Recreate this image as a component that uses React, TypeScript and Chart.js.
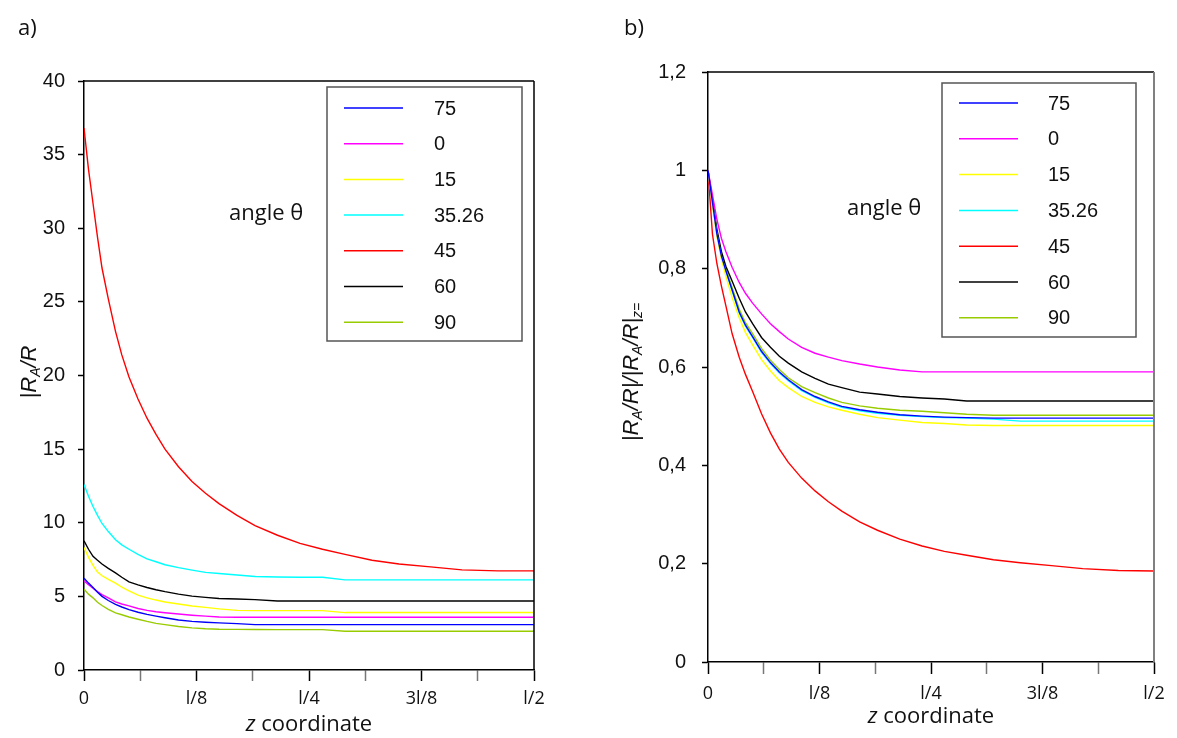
import React, { useEffect, useRef } from 'react';
import { Chart, registerables } from 'chart.js';
Chart.register(...registerables);

// z positions in units of l
const zGrid = [0, 0.005, 0.01, 0.015, 0.02, 0.027, 0.035, 0.042, 0.05, 0.06, 0.07, 0.08, 0.09, 0.105, 0.12, 0.135, 0.15, 0.17, 0.19, 0.215, 0.24, 0.265, 0.29, 0.32, 0.35, 0.385, 0.42, 0.46, 0.5];
const angleLabels = ['75', '0', '15', '35.26', '45', '60', '90'];
const seriesColors = ['#0000ff', '#ff00ff', '#ffff00', '#00ffff', '#ff0000', '#000000', '#99cc00'];
const xTickLabels = ['0', '', 'l/8', '', 'l/4', '', '3l/8', '', 'l/2'];

// panel a: |R_A/R|
const a75 = [6.24, 5.9, 5.6, 5.28, 5.0, 4.72, 4.45, 4.28, 4.1, 3.92, 3.78, 3.66, 3.55, 3.4, 3.3, 3.24, 3.2, 3.15, 3.08, 3.08, 3.08, 3.08, 3.08, 3.08, 3.08, 3.08, 3.08, 3.08, 3.08];
const a0 = [6.05, 5.8, 5.55, 5.32, 5.12, 4.9, 4.62, 4.48, 4.35, 4.18, 4.05, 3.96, 3.89, 3.8, 3.72, 3.66, 3.6, 3.58, 3.58, 3.58, 3.58, 3.58, 3.58, 3.58, 3.58, 3.58, 3.58, 3.58, 3.58];
const a15 = [8.32, 7.65, 7.1, 6.65, 6.4, 6.15, 5.9, 5.62, 5.38, 5.08, 4.9, 4.75, 4.62, 4.48, 4.35, 4.25, 4.15, 4.05, 4.03, 4.03, 4.03, 4.03, 3.9, 3.9, 3.9, 3.9, 3.9, 3.9, 3.9];
const a3526 = [12.6, 11.8, 11.1, 10.5, 9.95, 9.4, 8.85, 8.5, 8.2, 7.85, 7.55, 7.35, 7.15, 6.95, 6.78, 6.63, 6.55, 6.45, 6.35, 6.32, 6.3, 6.3, 6.12, 6.12, 6.12, 6.12, 6.12, 6.12, 6.12];
const a45 = [36.8, 34.0, 31.7, 29.4, 27.3, 25.2, 23.0, 21.4, 19.9, 18.4, 17.1, 16.0, 15.0, 13.8, 12.8, 12.0, 11.3, 10.5, 9.8, 9.15, 8.6, 8.2, 7.85, 7.45, 7.2, 7.0, 6.8, 6.73, 6.73];
const a60 = [8.78, 8.2, 7.72, 7.45, 7.2, 6.9, 6.6, 6.3, 5.98, 5.78, 5.6, 5.45, 5.32, 5.15, 5.02, 4.93, 4.86, 4.82, 4.78, 4.69, 4.69, 4.69, 4.69, 4.69, 4.69, 4.69, 4.69, 4.69, 4.69];
const a90 = [5.49, 5.15, 4.9, 4.6, 4.38, 4.12, 3.88, 3.75, 3.6, 3.45, 3.3, 3.17, 3.08, 2.95, 2.86, 2.8, 2.77, 2.76, 2.75, 2.74, 2.74, 2.74, 2.63, 2.63, 2.63, 2.63, 2.63, 2.63, 2.63];

// panel b: normalised
const b75 = [1, 0.935, 0.87, 0.826, 0.796, 0.757, 0.712, 0.685, 0.662, 0.632, 0.609, 0.59, 0.574, 0.554, 0.54, 0.529, 0.52, 0.513, 0.508, 0.503, 0.5, 0.498, 0.497, 0.496, 0.496, 0.496, 0.496, 0.496, 0.496];
const b0 = [1, 0.95, 0.9, 0.862, 0.835, 0.803, 0.772, 0.75, 0.73, 0.708, 0.688, 0.672, 0.657, 0.64, 0.628, 0.62, 0.613, 0.606, 0.6, 0.594, 0.59, 0.59, 0.59, 0.59, 0.59, 0.59, 0.59, 0.59, 0.59];
const b15 = [1, 0.93, 0.865, 0.82, 0.785, 0.742, 0.7, 0.67, 0.645, 0.615, 0.592, 0.572, 0.558, 0.54, 0.528, 0.519, 0.512, 0.504, 0.497, 0.492, 0.487, 0.485, 0.482, 0.481, 0.481, 0.481, 0.481, 0.481, 0.481];
const b3526 = [1, 0.935, 0.87, 0.825, 0.795, 0.755, 0.71, 0.683, 0.66, 0.63, 0.607, 0.588, 0.572, 0.552, 0.538, 0.527, 0.518, 0.511, 0.506, 0.502, 0.499, 0.497, 0.496, 0.494, 0.49, 0.49, 0.49, 0.49, 0.49];
const b45 = [1, 0.87, 0.81, 0.765, 0.725, 0.668, 0.62, 0.585, 0.55, 0.505, 0.466, 0.433, 0.406, 0.374, 0.348, 0.326, 0.307, 0.285, 0.268, 0.25, 0.236, 0.225, 0.217, 0.208, 0.202, 0.196, 0.19, 0.186, 0.185];
const b60 = [1, 0.94, 0.88, 0.835, 0.805, 0.775, 0.74, 0.712, 0.688, 0.66, 0.64, 0.622, 0.608, 0.59, 0.577, 0.565, 0.558, 0.549, 0.545, 0.54, 0.537, 0.535, 0.531, 0.531, 0.531, 0.531, 0.531, 0.531, 0.531];
const b90 = [1, 0.937, 0.873, 0.83, 0.8, 0.762, 0.718, 0.69, 0.668, 0.638, 0.614, 0.595, 0.578, 0.56, 0.548, 0.537, 0.528, 0.521, 0.516, 0.512, 0.51, 0.507, 0.504, 0.502, 0.502, 0.502, 0.502, 0.502, 0.502];

const seriesA = [a75, a0, a15, a3526, a45, a60, a90];
const seriesB = [b75, b0, b15, b3526, b45, b60, b90];

type Seg = { t: string; sub?: boolean };

type PanelCfg = {
  left: number; width: number; height: number;
  areaLeft: number; areaRight: number; areaTop: number; areaBottom: number;
  yMax: number; yStep: number; yFmt: (v: number) => string;
  yPad: number; xPad: number; xTickLen: number;
  series: number[][];
  legend: { x0: number; y0: number; x1: number; y1: number; lx0: number; lx1: number; tx: number; ry: number; dy: number };
  angle: { x: number; y: number };
  yTitle: { x: number; y: number; segs: Seg[] };
  xTitleY: number;
  tag: { t: string; x: number; y: number };
  rightColor: string;
};

const TICK_FONT = '"Liberation Sans", Arial, sans-serif';
const CAL_FONT = '"Open Sans", sans-serif';

function drawSegs(ctx: CanvasRenderingContext2D, segs: Seg[], main: string, sub: string, subShift: number) {
  let total = 0;
  for (const s of segs) { ctx.font = s.sub ? sub : main; total += ctx.measureText(s.t).width; }
  let x = -total / 2;
  for (const s of segs) {
    ctx.font = s.sub ? sub : main;
    ctx.fillText(s.t, x, s.sub ? subShift : 0);
    x += ctx.measureText(s.t).width;
  }
}

const Panel: React.FC<{ cfg: PanelCfg }> = ({ cfg }) => {
  const ref = useRef<HTMLCanvasElement>(null);
  useEffect(() => {
    const c = cfg;
    const off = c.left;
    const deco = {
      id: 'deco',
      afterDraw(chart: any) {
        const ctx: CanvasRenderingContext2D = chart.ctx;
        const a = chart.chartArea;
        ctx.save();
        // top & right frame
        ctx.lineWidth = 1.5;
        ctx.strokeStyle = '#000';
        ctx.beginPath();
        ctx.moveTo(a.left, a.top); ctx.lineTo(a.right, a.top);
        ctx.stroke();
        ctx.strokeStyle = c.rightColor;
        ctx.lineWidth = c.rightColor === '#000' ? 1.5 : 2;
        ctx.beginPath();
        ctx.moveTo(a.right, a.top); ctx.lineTo(a.right, a.bottom);
        ctx.stroke();
        // legend
        const L = c.legend;
        ctx.fillStyle = '#fff';
        ctx.fillRect(L.x0 - off, L.y0, L.x1 - L.x0, L.y1 - L.y0);
        ctx.strokeStyle = '#555';
        ctx.lineWidth = 1.5;
        ctx.strokeRect(L.x0 - off, L.y0, L.x1 - L.x0, L.y1 - L.y0);
        chart.data.datasets.forEach((ds: any, i: number) => {
          const y = L.ry + i * L.dy;
          ctx.strokeStyle = ds.borderColor;
          ctx.lineWidth = 1.5;
          ctx.beginPath();
          ctx.moveTo(L.lx0 - off, y); ctx.lineTo(L.lx1 - off, y);
          ctx.stroke();
          ctx.fillStyle = '#111';
          ctx.font = '20px ' + TICK_FONT;
          ctx.textAlign = 'left';
          ctx.textBaseline = 'middle';
          ctx.fillText(ds.label, L.tx - off, y + 1);
        });
        // angle text
        ctx.fillStyle = '#111';
        ctx.font = '22px ' + CAL_FONT;
        ctx.textAlign = 'left';
        ctx.textBaseline = 'middle';
        ctx.fillText('angle θ', c.angle.x - off, c.angle.y);
        // panel tag
        ctx.font = '22px ' + CAL_FONT;
        ctx.fillText(c.tag.t, c.tag.x - off, c.tag.y);
        // x title
        ctx.save();
        ctx.translate((a.left + a.right) / 2, c.xTitleY);
        ctx.textAlign = 'left';
        ctx.textBaseline = 'middle';
        let tw = 0;
        ctx.font = 'italic 22px ' + CAL_FONT; tw += ctx.measureText('z').width;
        ctx.font = '22px ' + CAL_FONT; tw += ctx.measureText(' coordinate').width;
        let xx = -tw / 2;
        ctx.font = 'italic 22px ' + CAL_FONT; ctx.fillText('z', xx, 0); xx += ctx.measureText('z').width;
        ctx.font = '22px ' + CAL_FONT; ctx.fillText(' coordinate', xx, 0);
        ctx.restore();
        // y title
        ctx.save();
        ctx.translate(c.yTitle.x - off, c.yTitle.y);
        ctx.rotate(-Math.PI / 2);
        ctx.textAlign = 'left';
        ctx.textBaseline = 'middle';
        drawSegs(ctx, c.yTitle.segs, 'italic 22px ' + TICK_FONT, 'italic 14px ' + TICK_FONT, 6);
        ctx.restore();
        ctx.restore();
      },
    };
    const chart = new Chart(ref.current!, {
      type: 'line',
      data: {
        datasets: c.series.map((vals, i) => ({
          label: angleLabels[i],
          data: vals.map((v, j) => ({ x: zGrid[j], y: v })),
          borderColor: seriesColors[i],
          backgroundColor: seriesColors[i],
          borderWidth: 1.4,
          pointRadius: 0,
          tension: 0,
          fill: false,
        })),
      },
      options: {
        responsive: false,
        animation: false,
        layout: { padding: { top: c.areaTop, right: c.width - (c.areaRight - off), left: 0, bottom: 0 } },
        plugins: { legend: { display: false }, tooltip: { enabled: false } },
        scales: {
          x: {
            type: 'linear', min: 0, max: 0.5,
            afterFit: (s: any) => { s.height = c.height - c.areaBottom; },
            ticks: {
              stepSize: 1 / 16, autoSkip: false, maxRotation: 0, padding: c.xPad,
              color: '#111', font: { family: CAL_FONT, size: 18 },
              callback: (v: any) => xTickLabels[Math.round(Number(v) * 16)] ?? '',
            },
            grid: {
              drawOnChartArea: false, drawTicks: true, tickLength: c.xTickLen, tickWidth: 1.5,
              tickColor: (ctx: any) => (Math.round(ctx.tick.value * 16) % 2 === 0 ? '#000' : '#777'),
            },
            border: { color: '#000', width: 1.5 },
          },
          y: {
            type: 'linear', min: 0, max: c.yMax,
            afterFit: (s: any) => { s.width = c.areaLeft - off; },
            ticks: {
              stepSize: c.yStep, padding: c.yPad, color: '#111',
              font: { family: TICK_FONT, size: 20 },
              callback: (v: any) => c.yFmt(Number(v)),
            },
            grid: { drawOnChartArea: false, drawTicks: true, tickLength: 6, tickWidth: 1.5, tickColor: '#000' },
            border: { color: '#000', width: 1.5 },
          },
        },
      },
      plugins: [deco],
    } as any);
    return () => chart.destroy();
  }, [cfg]);
  return (
    <canvas
      ref={ref}
      width={cfg.width}
      height={cfg.height}
      style={{ position: 'absolute', left: cfg.left, top: 0, width: cfg.width, height: cfg.height }}
    />
  );
};

const cfgA: PanelCfg = {
  left: 0, width: 590, height: 738,
  areaLeft: 84, areaRight: 534, areaTop: 81, areaBottom: 670,
  yMax: 40, yStep: 5, yFmt: (v) => String(Math.round(v)),
  yPad: 13, xPad: 7, xTickLen: 11,
  series: seriesA,
  legend: { x0: 327, y0: 87, x1: 522, y1: 341, lx0: 344, lx1: 403, tx: 434, ry: 108, dy: 35.7 },
  angle: { x: 229, y: 214 },
  yTitle: { x: 30, y: 372, segs: [{ t: '|R' }, { t: 'A', sub: true }, { t: '/R' }] },
  xTitleY: 725,
  tag: { t: 'a)', x: 18, y: 29 },
  rightColor: '#000',
};

const cfgB: PanelCfg = {
  left: 590, width: 587, height: 738,
  areaLeft: 708, areaRight: 1154, areaTop: 72, areaBottom: 662,
  yMax: 1.2, yStep: 0.2, yFmt: (v) => String(Math.round(v * 10) / 10).replace('.', ','),
  yPad: 16, xPad: 9, xTickLen: 12,
  series: seriesB,
  legend: { x0: 942, y0: 83, x1: 1136, y1: 337, lx0: 959, lx1: 1018, tx: 1048, ry: 103, dy: 35.8 },
  angle: { x: 847, y: 209 },
  yTitle: {
    x: 632, y: 372,
    segs: [{ t: '|R' }, { t: 'A', sub: true }, { t: '/R|/|R' }, { t: 'A', sub: true }, { t: '/R|' }, { t: 'z=', sub: true }],
  },
  xTitleY: 717,
  tag: { t: 'b)', x: 624, y: 29 },
  rightColor: '#808080',
};

export default function App() {
  return (
    <div style={{ position: 'fixed', left: 0, top: 0, width: 1177, height: 738, background: '#fff' }}>
      <Panel cfg={cfgA} />
      <Panel cfg={cfgB} />
    </div>
  );
}
